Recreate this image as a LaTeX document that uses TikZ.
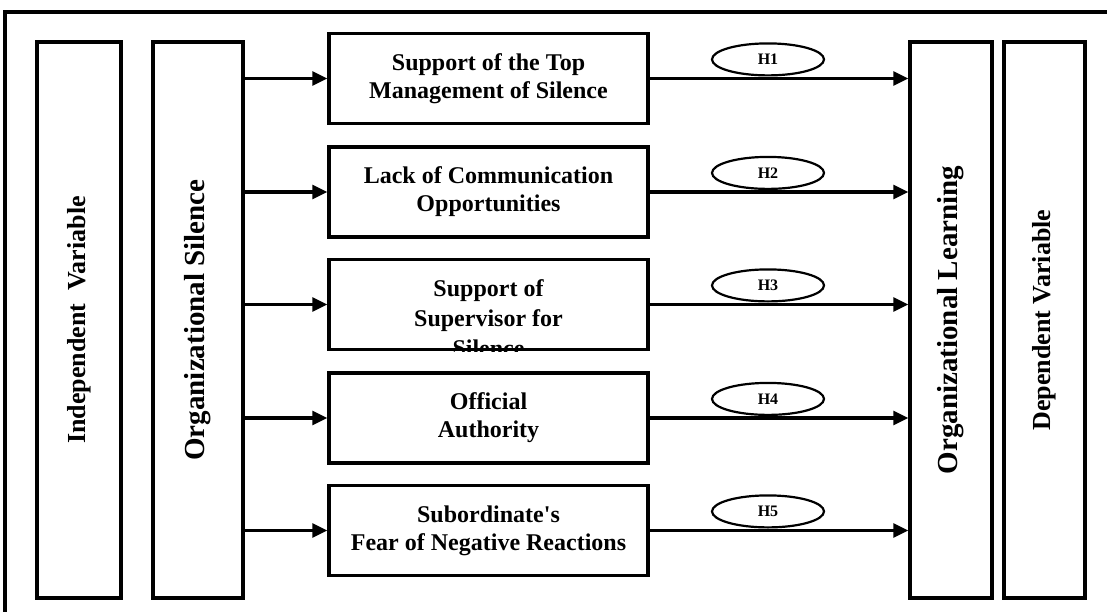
\documentclass[tikz,border=0pt]{standalone}
\usepackage{fontspec}
\setmainfont{Liberation Serif}
\usetikzlibrary{arrows.meta,positioning,shapes.geometric}

% straight apostrophe, kept out of the TeX quote mapping
\newcommand{\sq}{\XeTeXglyph\XeTeXglyphindex "quotesingle"\relax}

\tikzset{
  colbox/.style={draw,line width=3.5pt,rotate=90,minimum width=556pt,inner sep=0pt,
    font=\fontsize{26}{30}\selectfont\bfseries},
  factbox/.style={draw,line width=3.5pt,minimum width=319pt,minimum height=90pt,inner sep=0pt,
    align=center,font=\fontsize{24}{28}\selectfont\bfseries},
  hyp/.style={ellipse,draw,line width=2.2pt,minimum width=112pt,minimum height=32pt,inner sep=0pt,
    font=\fontsize{16}{18}\selectfont\bfseries},
  link/.style={line width=3.2pt,-{Triangle[length=15pt,width=14pt]}}
}

\begin{document}
\begin{tikzpicture}[x=1pt,y=-1pt]
  \useasboundingbox (0,0) rectangle (1107,612);

  % outer frame (only its top and left sides fall on the page)
  \draw[line width=3.5pt] (5,650) -- (5,12) -- (1140,12);

  % the four tall columns
  \node[colbox,minimum height=84pt] (indep) at (79,320) {Independent\ \ Variable};
  \node[colbox,minimum height=90pt,font=\fontsize{29}{32}\selectfont\bfseries] (silence) at (198,320) {Organizational Silence};
  \node[colbox,minimum height=82pt,font=\fontsize{29}{32}\selectfont\bfseries] (learning) at (951,320) {Organizational Learning};
  \node[colbox,minimum height=81pt] (dep) at (1044.5,320) {Dependent Variable};

  % the five dimensions of silence
  \node[factbox] (f1) at (488.5,78.5) {Support of the Top\\Management of Silence};
  \node[factbox] (f2) at (488.5,192) {Lack of Communication\\Opportunities};
  \node[factbox] (f3) at (488.5,304.5) {};
  \node[factbox] (f4) at (488.5,418) {Official\\Authority};
  \node[factbox] (f5) at (488.5,530.5) {Subordinate\sq s\\Fear of Negative Reactions};

  % third box: its last line runs under the border
  \begin{scope}
    \clip (f3.south west) rectangle (f3.north east);
    \node[align=center,font=\fontsize{24}{30}\selectfont\bfseries] (f3text) at (488.5,318)
      {Support of\\Supervisor for\\Silence};
  \end{scope}

  % arrows in and out, with the hypotheses on top
  \coordinate (hx) at (768,0);
  \foreach \i in {1,...,5} {
    \draw[link] (silence.south |- f\i.west) -- (f\i.west);
    \draw[link] (f\i.east) -- (f\i.east -| learning.north);
    \node[hyp,anchor=south,yshift=2pt] (h\i) at (f\i.east -| hx) {H\i};
  }
\end{tikzpicture}
\end{document}
